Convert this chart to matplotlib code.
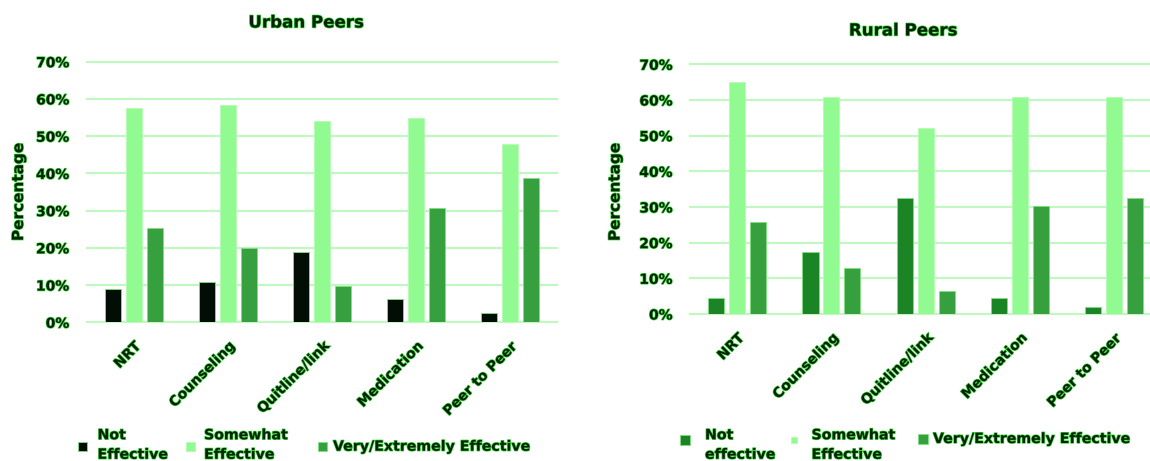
import matplotlib
matplotlib.use("Agg")
import matplotlib.pyplot as plt
import matplotlib.patheffects as pe
from matplotlib.patches import Rectangle
import numpy as np

categories = ["NRT", "Counseling", "Quitline/link", "Medication", "Peer to Peer"]

urban_not = [9.0, 10.7, 18.9, 6.3, 2.6]
urban_somewhat = [57.6, 58.5, 54.0, 55.0, 47.8]
urban_very = [25.2, 19.9, 9.8, 30.6, 38.7]

rural_not = [4.4, 17.3, 32.5, 4.4, 2.1]
rural_somewhat = [64.9, 60.7, 52.1, 60.7, 60.7]
rural_very = [25.9, 13.0, 6.4, 30.4, 32.4]

yticks = [0, 10, 20, 30, 40, 50, 60, 70]
ytick_labels = ["0%", "10%", "20%", "30%", "40%", "50%", "60%", "70%"]

plt.rcParams['font.family'] = ['DejaVu Sans']
plt.rcParams['font.weight'] = 'bold'

TXT = '#042204'
GLOW = '#3ad23a'
effects = [pe.withStroke(linewidth=1.0, foreground=GLOW)]

C_SOME = '#91fb91'
C_VERY = '#36a03e'
C_NOT_U = '#020e05'
C_NOT_R = '#1b8425'
GRID = '#c2f7c2'

W, H = 1150, 461
fig = plt.figure(figsize=(W / 100, H / 100), dpi=100)


def px_axes(x0, x1, ybot, ytop):
    return [x0 / W, 1 - ybot / H, (x1 - x0) / W, (ybot - ytop) / H]


def draw(ax, nots, somes, verys, not_color, title, title_xy):
    x = np.arange(len(categories))
    bw = 0.17
    off = 0.222
    ax.bar(x - off, nots, bw, color=not_color, edgecolor='#7ee07e', linewidth=0.6, zorder=3)
    ax.bar(x, somes, bw, color=C_SOME, edgecolor='#b5fbb5', linewidth=0.6, zorder=3)
    ax.bar(x + off, verys, bw, color=C_VERY, edgecolor='#7ee07e', linewidth=0.6, zorder=3)
    ax.set_xlim(-0.5, len(categories) - 0.5)
    ax.set_ylim(0, 70)
    ax.set_yticks(yticks)
    ax.set_yticklabels(ytick_labels)
    ax.set_xticks(x)
    ax.set_xticklabels(categories, rotation=45, ha='right', va='top',
                       rotation_mode='anchor')
    for s in ax.spines.values():
        s.set_visible(False)
    ax.grid(axis='y', color=GRID, linewidth=1.6, zorder=0)
    ax.set_axisbelow(True)
    for gl in ax.get_ygridlines():
        gl.set_clip_on(False)
    ax.tick_params(axis='y', length=0, pad=12.5, labelsize=10, labelcolor=TXT)
    ax.tick_params(axis='x', length=0, pad=12, labelsize=10, labelcolor=TXT)
    for lab in ax.get_yticklabels() + ax.get_xticklabels():
        lab.set_fontweight('bold')
        lab.set_path_effects(effects)
    t = fig.text(title_xy[0] / W, 1 - title_xy[1] / H, title, ha='center', va='center',
                 fontsize=12, fontweight='bold', color=TXT)
    t.set_path_effects(effects)


ax1 = fig.add_axes(px_axes(86.7, 557.3, 322.3, 61.7))
draw(ax1, urban_not, urban_somewhat, urban_very, C_NOT_U, "Urban Peers", (306, 22.5))
ax2 = fig.add_axes(px_axes(690, 1161.5, 314, 64.3))
draw(ax2, rural_not, rural_somewhat, rural_very, C_NOT_R, "Rural Peers", (903, 30.5))

for (xx, yy) in [(18.5, 192), (615, 192)]:
    t = fig.text(xx / W, 1 - yy / H, "Percentage", rotation=90, ha='center', va='center',
                 fontsize=11, fontweight='bold', color=TXT)
    t.set_path_effects(effects)


def legend_entry(sx0, sx1, sy, tx, ty, label, color, edge='#7ee07e'):
    fig.patches.append(Rectangle((sx0 / W, 1 - (sy + (sx1 - sx0) / 2) / H),
                                 (sx1 - sx0) / W, (sx1 - sx0) / H,
                                 transform=fig.transFigure, facecolor=color,
                                 edgecolor=edge, linewidth=0.6))
    t = fig.text(tx / W, 1 - ty / H, label, ha='left', va='center', fontsize=10.2,
                 fontweight='bold', color=TXT, linespacing=1.5)
    t.set_path_effects(effects)


# Urban legend
legend_entry(78, 86.7, 446.7, 97.5, 445, "Not\nEffective", C_NOT_U)
legend_entry(185.5, 195, 446.7, 204, 445, "Somewhat\nEffective", C_SOME, '#b5fbb5')
legend_entry(318, 327, 446.7, 333, 446.7, "Very/Extremely Effective", C_VERY)
# Rural legend
legend_entry(680, 690, 440, 705, 445, "Not\neffective", C_NOT_R)
legend_entry(791, 797, 440, 811.5, 445, "Somewhat\nEffective", C_SOME, '#b5fbb5')
legend_entry(918, 928, 439, 933, 439, "Very/Extremely Effective", C_VERY)

fig.savefig("out.png", dpi=100, facecolor='white')
